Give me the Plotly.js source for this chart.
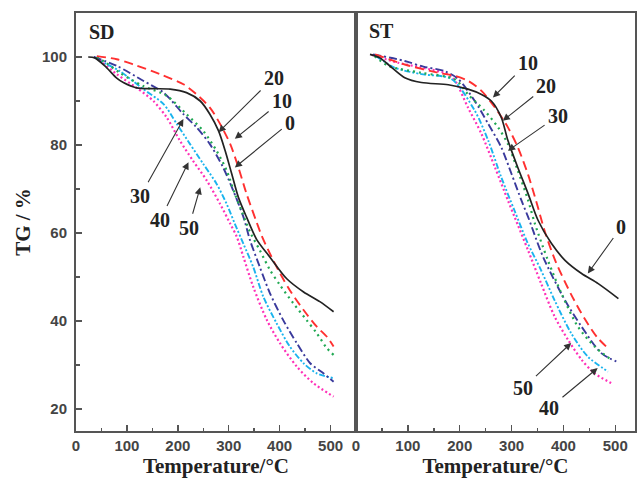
<!DOCTYPE html>
<html>
<head>
<meta charset="utf-8">
<script src="https://cdn.plot.ly/plotly-3.0.1.min.js"></script>
<style>html,body{margin:0;padding:0;background:#fff;}#chart{width:637px;height:483px;}</style>
</head>
<body>
<div id="chart"></div>
<script>
// ---------- DATA ----------
const seriesNames = ['0', '10', '20', '30', '40', '50'];
const xTickVals = [0, 100, 200, 300, 400, 500];
const yTickVals = [20, 40, 60, 80, 100];
const panelNames = ['SD', 'ST'];

// SD panel
const sdTemp0 = [24, 37, 60, 80, 93, 119, 152, 185, 217, 244, 263, 280, 293, 306, 319, 335, 355, 381, 414, 447, 479, 506];
const sdTG0   = [100, 99.8, 97.6, 95.2, 94.2, 93.0, 92.8, 92.7, 91.9, 90.0, 87.0, 83.2, 78.7, 73.4, 68.1, 63.6, 58.5, 54.5, 49.6, 46.6, 44.4, 42.1];
const sdTemp10 = [41, 80, 113, 165, 211, 237, 263, 283, 303, 319, 335, 355, 365, 381, 401, 420, 447, 473, 493, 506];
const sdTG10   = [100.2, 99.5, 98.3, 96.1, 93.8, 91.5, 88.5, 84.8, 80.2, 74.9, 68.9, 62.4, 59.3, 55.3, 50.8, 47.0, 42.5, 38.7, 36.4, 34.2];
const sdTemp20 = [41, 60, 86, 132, 178, 217, 250, 276, 296, 312, 326, 342, 361, 381, 401, 427, 453, 473, 493, 506];
const sdTG20   = [100, 98.6, 96.4, 93.4, 91.2, 87.0, 83.2, 78.7, 74.2, 68.9, 64.8, 60.2, 56.1, 51.6, 48.1, 44.0, 40.2, 37.2, 33.8, 32.3];
const sdTemp30 = [35, 80, 132, 172, 211, 237, 263, 289, 309, 329, 342, 361, 381, 407, 434, 460, 486, 506];
const sdTG30   = [100, 98.0, 94.6, 91.9, 87.0, 84.0, 80.2, 74.9, 69.6, 63.6, 58.3, 52.3, 46.3, 40.2, 34.9, 30.4, 28.1, 26.2];
const sdTemp40 = [35, 60, 86, 132, 172, 198, 224, 250, 276, 296, 312, 329, 348, 368, 394, 420, 447, 473, 506];
const sdTG40   = [100, 98.4, 96.8, 92.7, 89.3, 84.8, 80.2, 75.7, 71.2, 66.6, 62.1, 57.5, 52.3, 45.5, 39.5, 34.2, 30.4, 28.1, 27.0];
const sdTemp50 = [40, 80, 119, 152, 178, 204, 230, 257, 283, 303, 316, 329, 348, 375, 401, 434, 466, 506];
const sdTG50   = [100, 96.1, 93.0, 90.0, 86.3, 81.0, 76.4, 71.9, 66.6, 62.1, 59.1, 54.5, 47.8, 40.2, 34.9, 29.6, 25.9, 22.8];

// ST panel
const stTemp0 = [27, 46, 69, 94, 126, 178, 216, 242, 261, 280, 293, 312, 332, 351, 377, 403, 435, 467, 506];
const stTG0   = [100.6, 99.8, 97.6, 95.3, 94.2, 93.7, 92.7, 91.5, 90.0, 86.3, 81.0, 74.9, 68.9, 62.9, 57.6, 53.8, 50.8, 48.5, 45.1];
const stTemp10 = [37, 94, 159, 191, 216, 242, 268, 293, 312, 332, 348, 365, 385, 415, 441, 465, 486];
const stTG10   = [100.6, 98.3, 96.4, 95.7, 94.6, 92.3, 88.5, 84.0, 79.5, 73.2, 67.0, 60.0, 53.5, 46.0, 40.5, 36.3, 33.8];
const stTemp20 = [36, 62, 126, 191, 216, 248, 274, 293, 312, 332, 345, 370, 396, 428, 460, 492];
const stTG20   = [100.2, 98.0, 96.4, 94.9, 91.5, 87.8, 84.0, 80.2, 74.2, 67.4, 62.1, 53.8, 46.3, 38.7, 34.2, 31.2];
const stTemp30 = [33, 94, 130, 171, 197, 229, 255, 280, 300, 319, 332, 361, 403, 435, 473, 502];
const stTG30   = [100.6, 99.1, 97.8, 96.8, 95.0, 90.0, 84.8, 79.5, 73.4, 67.4, 63.6, 54.5, 44.7, 38.7, 32.7, 30.8];
const stTemp40 = [39, 74, 126, 184, 229, 255, 280, 306, 330, 357, 383, 415, 447, 486];
const stTG40   = [100.2, 97.6, 96.1, 95.0, 87.8, 81.0, 72.7, 65.0, 58.0, 51.5, 44.7, 37.2, 31.9, 28.5];
const stTemp50 = [30, 81, 126, 177, 191, 216, 242, 268, 293, 306, 332, 357, 383, 409, 435, 460, 492];
const stTG50   = [100.5, 98.7, 97.6, 96.1, 94.6, 88.5, 82.5, 74.9, 67.4, 63.6, 56.0, 48.5, 41.0, 35.7, 31.2, 28.1, 25.9];

// ---------- STYLES ----------
const styles = {
  '0':  {color: '#222222', dash: 'solid', width: 1.7},
  '10': {color: '#ff3030', dash: '9px,5px', width: 1.9},
  '20': {color: '#20a852', dash: '2px,4px', width: 2.2},
  '30': {color: '#3a3a9c', dash: '8px,3px,2px,3px', width: 1.9},
  '40': {color: '#1ab4ee', dash: '6px,2px,2px,2px,2px,2px', width: 1.9},
  '50': {color: '#ff30b8', dash: '2px,2.5px', width: 2.2}
};

const sdData = {
  '0': [sdTemp0, sdTG0], '10': [sdTemp10, sdTG10], '20': [sdTemp20, sdTG20],
  '30': [sdTemp30, sdTG30], '40': [sdTemp40, sdTG40], '50': [sdTemp50, sdTG50]
};
const stData = {
  '0': [stTemp0, stTG0], '10': [stTemp10, stTG10], '20': [stTemp20, stTG20],
  '30': [stTemp30, stTG30], '40': [stTemp40, stTG40], '50': [stTemp50, stTG50]
};

const drawOrder = ['50', '40', '30', '20', '10', '0'];
const traces = [];
[[sdData, 'x', 'y'], [stData, 'x2', 'y2']].forEach(([d, xa, ya]) => {
  drawOrder.forEach(n => {
    const s = styles[n];
    traces.push({
      x: d[n][0], y: d[n][1], name: n, type: 'scatter', mode: 'lines',
      xaxis: xa, yaxis: ya,
      line: {color: s.color, dash: s.dash, width: s.width, shape: 'spline', smoothing: 0.8},
      showlegend: false, hoverinfo: 'skip'
    });
  });
});

// ---------- LAYOUT ----------
const frameColor = '#555555';
const tickFont = {family: 'Liberation Sans, Arial, sans-serif', size: 15, color: '#444', weight: 'bold'};
const titleFont = {family: 'Liberation Serif, Times New Roman, serif', size: 21, color: '#222', weight: 'bold'};
const labelFont = {family: 'Liberation Serif, Times New Roman, serif', size: 20, color: '#222', weight: 'bold'};

function xAxis(domain, range, anchor) {
  return {
    domain: domain, range: range, anchor: anchor,
    showline: true, mirror: true, linecolor: frameColor, linewidth: 2,
    showgrid: false, zeroline: false,
    ticks: 'inside', ticklen: 6, tickwidth: 1.5, tickcolor: frameColor,
    tickvals: xTickVals, ticktext: xTickVals.map(String),
    minor: {ticks: 'inside', ticklen: 3.5, tickwidth: 1.5, tickcolor: frameColor, dtick: 50, tick0: 0, showgrid: false},
    tickfont: tickFont,
    title: {text: 'Temperature/°C', font: titleFont, standoff: 2}
  };
}

const layout = {
  width: 637, height: 483,
  margin: {l: 76, r: 2, t: 13, b: 52},
  paper_bgcolor: '#ffffff', plot_bgcolor: '#ffffff',
  showlegend: false,
  xaxis: xAxis([0, 0.5009], [0, 550], 'y'),
  xaxis2: xAxis([0.5009, 1], [0, 538], 'y2'),
  yaxis: {
    domain: [0, 1], range: [15, 110], anchor: 'x',
    showline: true, mirror: true, linecolor: frameColor, linewidth: 2,
    showgrid: false, zeroline: false,
    ticks: 'inside', ticklen: 6, tickwidth: 1.5, tickcolor: frameColor,
    tickvals: yTickVals, ticktext: yTickVals.map(String),
    minor: {ticks: 'inside', ticklen: 3.5, tickwidth: 1.5, tickcolor: frameColor, dtick: 10, tick0: 0, showgrid: false},
    tickfont: tickFont, ticklabelstandoff: 4,
    title: {text: 'TG / %', font: titleFont, standoff: 6}
  },
  yaxis2: {
    domain: [0, 1], range: [15, 110], anchor: 'x2', matches: 'y',
    showline: true, mirror: true, linecolor: frameColor, linewidth: 2,
    showgrid: false, zeroline: false, ticks: '', showticklabels: false
  },
  annotations: []
};

// panel labels
layout.annotations.push({xref: 'x domain', yref: 'y domain', x: 0.04, y: 0.955, xanchor: 'left', yanchor: 'middle', text: panelNames[0], showarrow: false, font: labelFont});
layout.annotations.push({xref: 'x2 domain', yref: 'y2 domain', x: 0.04, y: 0.957, xanchor: 'left', yanchor: 'middle', text: panelNames[1], showarrow: false, font: labelFont});

// curve labels with arrows: [axis suffix, label, textX, textY, tipX, tipY]
const callouts = [
  ['', '20', 388, 95.3, 280, 82.9],
  ['', '10', 404, 90.0, 312, 81.4],
  ['', '0', 420, 85.1, 312, 74.9],
  ['', '30', 126, 68.3, 211, 85.9],
  ['', '40', 165, 62.9, 221, 76.1],
  ['', '50', 221, 61.1, 244, 70.4],
  ['2', '10', 331, 98.7, 264, 90.8],
  ['2', '20', 367, 93.4, 283, 85.5],
  ['2', '30', 389, 86.6, 293, 78.7],
  ['2', '0', 511, 61.3, 447, 50.8],
  ['2', '50', 322, 24.7, 415, 35.0],
  ['2', '40', 373, 20.2, 466, 29.3]
];
callouts.forEach(c => {
  const xr = 'x' + c[0], yr = 'y' + c[0];
  layout.annotations.push({xref: xr, yref: yr, x: c[4], y: c[5], axref: xr, ayref: yr, ax: c[2], ay: c[3],
    text: c[1], font: labelFont, showarrow: true, arrowhead: 2, arrowsize: 1.3, arrowwidth: 1.1,
    arrowcolor: '#333', startstandoff: 2, borderpad: 1});
});

Plotly.newPlot('chart', traces, layout, {staticPlot: true, displayModeBar: false});
</script>
</body>
</html>
